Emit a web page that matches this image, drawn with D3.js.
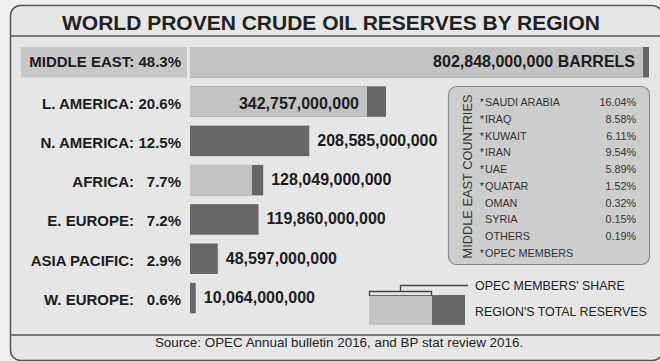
<!DOCTYPE html>
<html><head><meta charset="utf-8">
<script src="https://cdn.jsdelivr.net/npm/d3@7"></script>
<style>
html,body{margin:0;padding:0;background:#efefef;}
svg{display:block;font-family:"Liberation Sans",Arial,Helvetica,sans-serif;}
</style></head>
<body><svg id="c" width="660" height="361"></svg>
<script>
const title = "WORLD PROVEN CRUDE OIL RESERVES BY REGION";
const source = "Source: OPEC Annual bulletin 2016, and BP stat review 2016.";
const regions = ["MIDDLE EAST", "L. AMERICA", "N. AMERICA", "AFRICA", "E. EUROPE", "ASIA PACIFIC", "W. EUROPE"];
const worldShare = [48.3, 20.6, 12.5, 7.7, 7.2, 2.9, 0.6];
const totalReserves = [802848e6, 342757e6, 208585e6, 128049e6, 119860e6, 48597e6, 10064e6];
const opecReserves = [792400e6, 309600e6, 0, 108400e6, 0, 0, 0];
const countries = ["SAUDI ARABIA", "IRAQ", "KUWAIT", "IRAN", "UAE", "QUATAR", "OMAN", "SYRIA", "OTHERS"];
const countryShare = [16.04, 8.58, 6.11, 9.54, 5.89, 1.52, 0.32, 0.15, 0.19];
const opecMember = [true, true, true, true, true, true, false, false, false];
const legendLabels = ["OPEC MEMBERS' SHARE", "REGION'S TOTAL RESERVES"];

const svg = d3.select("#c");
const LIGHT = "#c3c3c3", DARK = "#666666", BG = "#e6e6e6", INK = "#1c1c1c";

// frame
svg.append("rect").attr("x", 10.5).attr("y", 5.5).attr("width", 652).attr("height", 355)
  .attr("rx", 10).attr("fill", BG).attr("stroke", "#555").attr("stroke-width", 1.5);
svg.append("line").attr("x1", 11).attr("x2", 660).attr("y1", 36).attr("y2", 36)
  .attr("stroke", "#555").attr("stroke-width", 1.5);
svg.append("line").attr("x1", 11).attr("x2", 660).attr("y1", 335).attr("y2", 335)
  .attr("stroke", "#555").attr("stroke-width", 1.5);

svg.append("text").attr("x", 331).attr("y", 30).attr("text-anchor", "middle")
  .attr("font-size", 21).attr("font-weight", "bold").attr("fill", "#222").text(title);
svg.append("text").attr("x", 339).attr("y", 347).attr("text-anchor", "middle")
  .attr("font-size", 13.4).attr("fill", "#222").text(source);

const x = d3.scaleLinear().domain([0, d3.max(totalReserves)]).range([190, 649]);
const y = d3.scaleBand().domain(regions).range([47, 313.3]).paddingInner(0.224).paddingOuter(0);
const bw = y.bandwidth();
const fmt = d3.format(",");

const data = regions.map((r, i) => ({region: r, share: worldShare[i], total: totalReserves[i], opec: opecReserves[i], i}));

// Middle East label box
svg.append("rect").attr("x", 21).attr("y", y(regions[0])).attr("width", 166).attr("height", bw).attr("fill", "#c8c8c8");

const g = svg.append("g");
const row = g.selectAll("g.row").data(data).join("g").attr("class", "row");

// total (dark) bars
row.append("rect").attr("x", x(0)).attr("y", d => y(d.region))
  .attr("width", d => x(d.total) - x(0)).attr("height", bw).attr("fill", DARK);
// opec (light) part
row.filter(d => d.opec > 0).append("rect").attr("x", x(0)).attr("y", d => y(d.region))
  .attr("width", d => x(d.opec) - x(0)).attr("height", bw).attr("fill", LIGHT);

// labels
row.each(function(d) {
  const s = d3.select(this);
  const cy = y(d.region) + bw / 2;
  if (d.i === 0) {
    s.append("text").attr("x", 181).attr("y", cy + 5).attr("text-anchor", "end")
      .attr("font-size", 15).attr("font-weight", "bold").attr("fill", INK)
      .text(d.region + ": " + d.share.toFixed(1) + "%");
  } else {
    s.append("text").attr("x", 134).attr("y", cy + 7).attr("text-anchor", "end")
      .attr("font-size", 15).attr("font-weight", "bold").attr("fill", INK).text(d.region + ":");
    s.append("text").attr("x", 181).attr("y", cy + 7).attr("text-anchor", "end")
      .attr("font-size", 15).attr("font-weight", "bold").attr("fill", INK).text(d.share.toFixed(1) + "%");
  }
  const inside = d.opec > 0 && (x(d.opec) - x(0)) > 150;
  const label = fmt(d.total) + (d.i === 0 ? " BARRELS" : "");
  if (inside) {
    s.append("text").attr("x", x(d.opec) - 8).attr("y", cy + (d.i === 0 ? 5 : 7.5)).attr("text-anchor", "end")
      .attr("font-size", 16).attr("font-weight", "bold").attr("fill", INK).text(label);
  } else {
    s.append("text").attr("x", x(d.total) + 8).attr("y", cy + 5)
      .attr("font-size", 16).attr("font-weight", "bold").attr("fill", INK).text(label);
  }
});

// Middle East countries inset
const ib = svg.append("g");
ib.append("rect").attr("x", 448.5).attr("y", 86.5).attr("width", 201).attr("height", 178)
  .attr("rx", 8).attr("fill", "#cdcdcd").attr("stroke", "#8a8a8a").attr("stroke-width", 1.2);
ib.append("text").attr("transform", "translate(472,176.5) rotate(-90)").attr("text-anchor", "middle")
  .attr("font-size", 12.8).attr("fill", "#333").text("MIDDLE EAST COUNTRIES");
const cyS = d3.scalePoint().domain(d3.range(countries.length + 1)).range([106, 257]);
countries.forEach((c, i) => {
  if (opecMember[i]) ib.append("text").attr("x", 484).attr("y", cyS(i)).attr("text-anchor", "end")
    .attr("font-size", 11).attr("fill", "#333").text("*");
  ib.append("text").attr("x", 485).attr("y", cyS(i)).attr("font-size", 10.8).attr("fill", "#333").text(c);
  ib.append("text").attr("x", 636).attr("y", cyS(i)).attr("text-anchor", "end")
    .attr("font-size", 10.8).attr("fill", "#333").text(countryShare[i].toFixed(2) + "%");
});
ib.append("text").attr("x", 484).attr("y", cyS(countries.length)).attr("text-anchor", "end")
  .attr("font-size", 11).attr("fill", "#333").text("*");
ib.append("text").attr("x", 485).attr("y", cyS(countries.length)).attr("font-size", 10.8).attr("fill", "#333").text("OPEC MEMBERS");

// legend
const lg = svg.append("g");
lg.append("rect").attr("x", 369).attr("y", 295).attr("width", 96).attr("height", 30).attr("fill", DARK);
lg.append("rect").attr("x", 369).attr("y", 296).attr("width", 63).attr("height", 29).attr("fill", LIGHT);
lg.append("path").attr("d", "M369.5,296V291.5H431.5V296M400.5,291.5V285.5H468")
  .attr("fill", "none").attr("stroke", "#444").attr("stroke-width", 1.3);
lg.append("text").attr("x", 475).attr("y", 289.5).attr("font-size", 12.4).attr("fill", "#222").text(legendLabels[0]);
lg.append("text").attr("x", 475).attr("y", 315.5).attr("font-size", 12.4).attr("fill", "#222").text(legendLabels[1]);
</script></body></html>
